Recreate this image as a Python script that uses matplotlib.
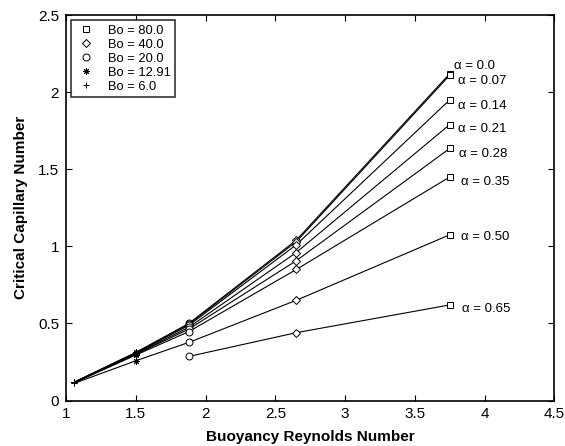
import numpy as np
import matplotlib.pyplot as plt

plt.rcParams['font.family'] = ['Liberation Sans', 'DejaVu Sans']

# Buoyancy Reynolds number for each Bond number
bo_labels = ['Bo = 80.0', 'Bo = 40.0', 'Bo = 20.0', 'Bo = 12.91', 'Bo = 6.0']
bo_markers = ['s', 'D', 'o', (8, 2, 0), '+']
re_bo = [3.75, 2.65, 1.88, 1.50, 1.06]

alphas = ['0.0', '0.07', '0.14', '0.21', '0.28', '0.35', '0.50', '0.65']
# critical capillary number, ordered as re_bo (Bo = 80, 40, 20, 12.91, 6); nan = not computed
ca = {
    '0.0':  [2.12, 1.04, 0.50, 0.312, 0.120],
    '0.07': [2.11, 1.03, 0.495, 0.310, 0.120],
    '0.14': [1.95, 1.01, 0.488, 0.307, 0.119],
    '0.21': [1.79, 0.96, 0.475, 0.303, 0.118],
    '0.28': [1.635, 0.907, 0.463, 0.300, 0.117],
    '0.35': [1.45, 0.85, 0.447, 0.295, 0.115],
    '0.50': [1.075, 0.65, 0.377, 0.258, 0.112],
    '0.65': [0.62, 0.44, 0.286, np.nan, np.nan],
}
label_xy = {
    '0.0': (3.78, 2.17), '0.07': (3.81, 2.07), '0.14': (3.81, 1.91),
    '0.21': (3.81, 1.76), '0.28': (3.82, 1.60), '0.35': (3.83, 1.42),
    '0.50': (3.83, 1.06), '0.65': (3.84, 0.595),
}

fig = plt.figure(figsize=(5.65, 4.46), dpi=100)
ax = fig.add_axes([0.117, 0.102, 0.864, 0.864])

for a in alphas:
    y = np.array(ca[a])
    ok = ~np.isnan(y)
    ax.plot(np.array(re_bo)[ok], y[ok], color='black', lw=0.8, zorder=2)

marker_size = {'s': 4.2, 'D': 3.6, 'o': 5.0, '+': 5.0}
for i in range(len(re_bo)):
    ys = [ca[a][i] for a in alphas if not np.isnan(ca[a][i])]
    m = bo_markers[i]
    ms = marker_size.get(m, 4.5) if isinstance(m, str) else 4.5
    ax.plot([re_bo[i]] * len(ys), ys, linestyle='none', marker=m, ms=ms,
            mfc='white' if m in ('s', 'D', 'o') else 'black', mec='black',
            mew=0.7, zorder=3, label=bo_labels[i])

for a in alphas:
    ax.text(*label_xy[a], '\u03b1 = ' + a, fontsize=9.5, va='center', ha='left')

ax.set_xlim(1, 4.5)
ax.set_ylim(0, 2.5)
ax.set_xticks([1, 1.5, 2, 2.5, 3, 3.5, 4, 4.5])
ax.set_xticklabels(['1', '1.5', '2', '2.5', '3', '3.5', '4', '4.5'])
ax.set_yticks([0, 0.5, 1, 1.5, 2, 2.5])
ax.set_yticklabels(['0', '0.5', '1', '1.5', '2', '2.5'])
ax.tick_params(direction='in', top=True, right=True, labelsize=11, length=4,
               width=0.8, pad=5)
for s in ax.spines.values():
    s.set_linewidth(1.2)

ax.set_xlabel('Buoyancy Reynolds Number', fontsize=11, fontweight='bold', labelpad=6)
ax.set_ylabel('Critical Capillary Number', fontsize=11, fontweight='bold', labelpad=7)

leg = ax.legend(loc='upper left', fontsize=9.3, frameon=True, fancybox=False,
                borderpad=0.35, labelspacing=0.15, handletextpad=0.9,
                handlelength=1.6, borderaxespad=0.4)
leg.get_frame().set_edgecolor('black')
leg.get_frame().set_linewidth(1.2)

fig.savefig('out.png', dpi=100)
